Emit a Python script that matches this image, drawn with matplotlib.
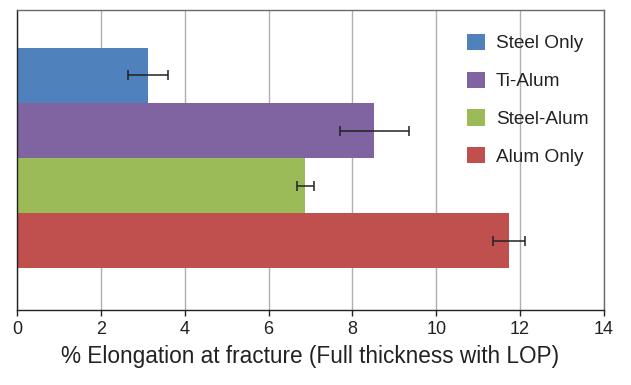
import numpy as np
import matplotlib
matplotlib.use("Agg")
import matplotlib.pyplot as plt
from matplotlib.patches import Patch

plt.rcParams['font.family'] = ['Liberation Sans', 'DejaVu Sans']

# data
labels = ['Steel Only', 'Ti-Alum', 'Steel-Alum', 'Alum Only']
values = [3.12, 8.52, 6.88, 11.74]
errors = [0.48, 0.82, 0.20, 0.39]
colors = ['#4F81BD', '#8064A2', '#9BBB59', '#C0504D']
xticks = [0, 2, 4, 6, 8, 10, 12, 14]

fig = plt.figure(figsize=(6.31, 3.85), dpi=100)
ax = fig.add_axes([0.027, 0.195, 0.930, 0.779])

ypos = np.arange(len(labels))[::-1]  # first series on top
for y, v, e, c in zip(ypos, values, errors, colors):
    ax.barh(y, v, height=1.0, color=c, zorder=2)
    ax.errorbar(v, y, xerr=e, fmt='none', ecolor='#222222', elinewidth=1.1,
                capsize=3.5, capthick=1.1, zorder=3)

ax.set_xlim(0, 14)
ax.set_ylim(-1.26, 4.19)
ax.set_xticks(xticks)
ax.set_yticks([])
ax.xaxis.grid(True, color='#b0b0b0', linewidth=1.0, zorder=0)
ax.set_axisbelow(True)
ax.tick_params(axis='x', direction='out', length=4, width=1, color='#222222',
               labelsize=13, pad=4, labelcolor='#222222')

for side in ['top', 'right']:
    ax.spines[side].set_color('#6a6a6a')
    ax.spines[side].set_linewidth(1.0)
for side in ['left', 'bottom']:
    ax.spines[side].set_color('#222222')
    ax.spines[side].set_linewidth(1.0)

ax.set_xlabel('% Elongation at fracture (Full thickness with LOP)', fontsize=16.3,
              color='#222222', labelpad=5)

handles = [Patch(facecolor=c, edgecolor='none') for c in colors]
ax.legend(handles, labels, loc='upper left', bbox_to_anchor=(0.738, 0.978),
          frameon=False, fontsize=13.7, handlelength=0.95, handleheight=0.95,
          handletextpad=0.55, labelspacing=1.0, labelcolor='#222222')

fig.savefig('out.png', dpi=100)
